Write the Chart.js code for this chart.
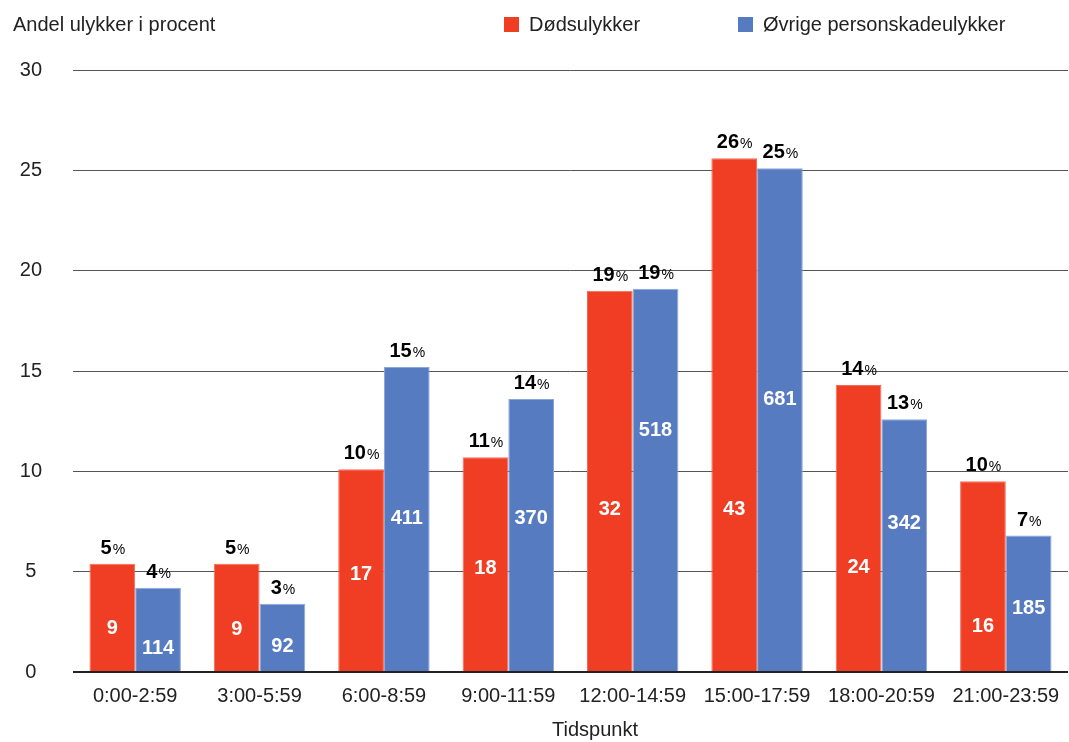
<!DOCTYPE html>
<html lang="da">
<head>
<meta charset="utf-8">
<title>Ulykker fordelt på tidspunkt</title>
<script src="https://cdn.jsdelivr.net/npm/chart.js@4.4.1/dist/chart.umd.min.js"></script>
<style>
  html, body { margin: 0; padding: 0; background: #fff; }
  #wrap { width: 1069px; height: 742px; position: relative; }
</style>
</head>
<body>
<div id="wrap"><canvas id="ulykkerChart"></canvas></div>
<script>
const timeSlots = ['0:00-2:59', '3:00-5:59', '6:00-8:59', '9:00-11:59', '12:00-14:59', '15:00-17:59', '18:00-20:59', '21:00-23:59'];

// antal ulykker pr. tidsrum
const fatalCounts = [9, 9, 17, 18, 32, 43, 24, 16];
const injuryCounts = [114, 92, 411, 370, 518, 681, 342, 185];

// andel i procent
const fatalShare = [5.4, 5.4, 10.1, 10.7, 19.0, 25.6, 14.3, 9.5];
const injuryShare = [4.2, 3.4, 15.2, 13.6, 19.1, 25.1, 12.6, 6.8];

const seriesNames = ['Dødsulykker', 'Øvrige personskadeulykker'];
const yTicks = [0, 5, 10, 15, 20, 25, 30];

const FONT = '"Liberation Sans", Arial, Helvetica, sans-serif';
const RED = '#ef3e23';
const BLUE = '#567bc0';
const TEXT = '#222';

// hvor antallet står inde i søjlen (i y-værdi)
const countPos = [
    [2.24, 2.2, 4.93, 5.23, 8.17, 8.17, 5.28, 2.34],
    [1.25, 1.35, 7.72, 7.72, 12.1, 13.65, 7.47, 3.24]
];
const countLabels = [fatalCounts, injuryCounts];

const labelPlugin = {
    id: 'ulykkeLabels',
    afterDatasetsDraw(chart) {
        const ctx = chart.ctx;
        const yScale = chart.scales.y;
        ctx.save();
        chart.data.datasets.forEach((ds, i) => {
            const meta = chart.getDatasetMeta(i);
            meta.data.forEach((bar, j) => {
                // procent over søjlen, med mindre %-tegn
                const num = String(Math.round(ds.data[j]));
                ctx.font = 'bold 20px ' + FONT;
                const wNum = ctx.measureText(num).width;
                ctx.font = '14px ' + FONT;
                const wPct = ctx.measureText('%').width;
                let x = bar.x - (wNum + wPct) / 2;
                const base = bar.y - 10;
                ctx.fillStyle = '#000';
                ctx.textAlign = 'left';
                ctx.textBaseline = 'alphabetic';
                ctx.font = 'bold 20px ' + FONT;
                ctx.fillText(num, x, base);
                ctx.font = '14px ' + FONT;
                ctx.fillText('%', x + wNum + 1, base);

                // antal inde i søjlen
                ctx.font = 'bold 20px ' + FONT;
                ctx.fillStyle = '#fff';
                ctx.textAlign = 'center';
                ctx.fillText(String(countLabels[i][j]), bar.x, yScale.getPixelForValue(countPos[i][j]) + 7);
            });
        });
        ctx.restore();
    },
    afterDraw(chart) {
        const ctx = chart.ctx;
        ctx.save();
        ctx.font = '20px ' + FONT;
        ctx.fillStyle = TEXT;
        ctx.textBaseline = 'alphabetic';
        ctx.textAlign = 'left';
        ctx.fillText('Andel ulykker i procent', 13, 31);

        // forklaring
        ctx.fillStyle = RED;
        ctx.fillRect(504, 17, 15, 15);
        ctx.fillStyle = BLUE;
        ctx.fillRect(738, 17, 15, 15);
        ctx.fillStyle = TEXT;
        ctx.fillText(seriesNames[0], 529, 31);
        ctx.fillText(seriesNames[1], 763, 31);

        ctx.textAlign = 'center';
        ctx.fillText('Tidspunkt', 595, 736);
        ctx.restore();
    }
};

function initializeChart() {
    var ctx = document.getElementById('ulykkerChart').getContext('2d');

    window.myChart = new Chart(ctx, {
        type: 'bar',
        data: {
            labels: timeSlots,
            datasets: [
                {
                    label: seriesNames[0],
                    data: fatalShare,
                    backgroundColor: RED,
                    borderColor: '#f36a55',
                    borderWidth: 1
                },
                {
                    label: seriesNames[1],
                    data: injuryShare,
                    backgroundColor: BLUE,
                    borderColor: '#8aa6da',
                    borderWidth: 1
                }
            ]
        },
        options: {
            responsive: true,
            maintainAspectRatio: false,
            animation: false,
            layout: { padding: { top: 70, right: 1, bottom: 0, left: 0 } },
            datasets: {
                bar: { categoryPercentage: 0.735, barPercentage: 1.0 }
            },
            plugins: {
                legend: { display: false },
                tooltip: { enabled: false }
            },
            scales: {
                x: {
                    grid: { display: false, drawTicks: false },
                    border: { display: false },
                    ticks: {
                        color: TEXT,
                        font: { family: FONT, size: 20 },
                        padding: 12,
                        maxRotation: 0
                    },
                    afterFit: (s) => {
                        s.height = 70;
                        s.paddingLeft = 0;
                        s.paddingRight = 0;
                    }
                },
                y: {
                    min: 0,
                    max: 30,
                    afterBuildTicks: (s) => { s.ticks = yTicks.map(v => ({ value: v })); },
                    grid: {
                        drawTicks: false,
                        color: (c) => c.tick && c.tick.value === 0 ? '#222' : '#555',
                        lineWidth: (c) => c.tick && c.tick.value === 0 ? 2 : 1
                    },
                    border: { display: false },
                    ticks: {
                        color: TEXT,
                        font: { family: FONT, size: 20 },
                        padding: 31,
                        crossAlign: 'center'
                    },
                    afterFit: (s) => { s.width = 73; }
                }
            }
        },
        plugins: [labelPlugin]
    });
}

initializeChart();
</script>
</body>
</html>
